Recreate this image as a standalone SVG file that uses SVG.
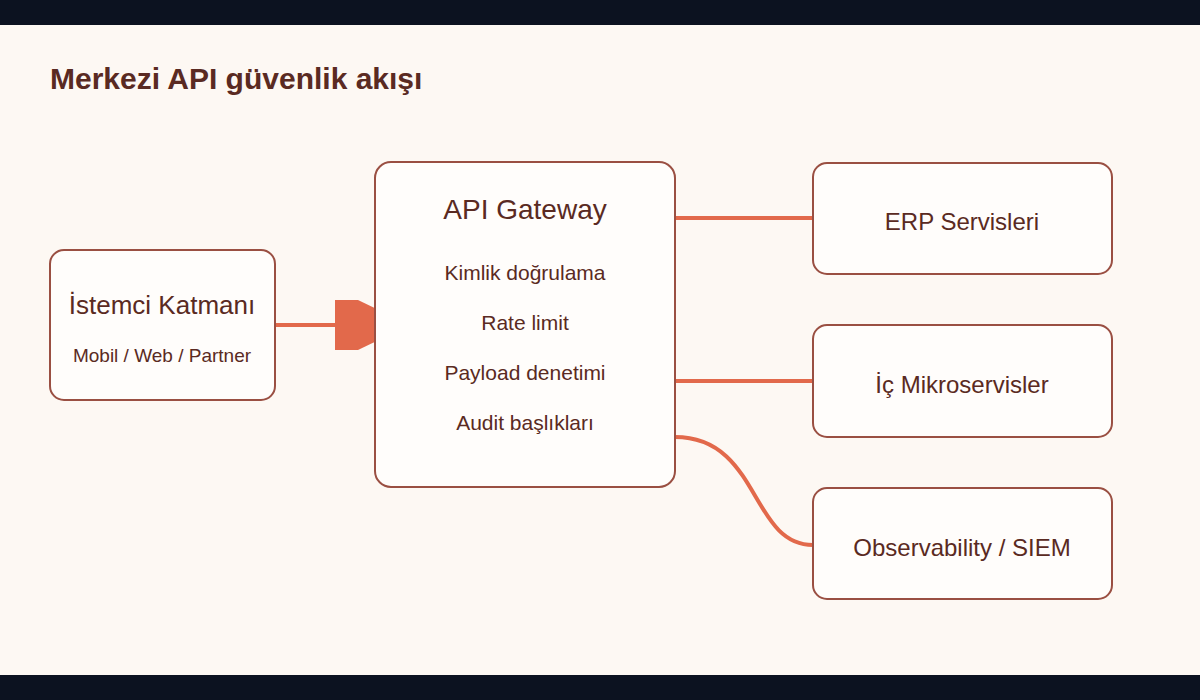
<svg xmlns="http://www.w3.org/2000/svg" width="1200" height="700" viewBox="0 0 1200 700">
<style>
.box{fill:#fffdfb;stroke:#9a4f42;stroke-width:2}
.t{font-family:"Liberation Sans",Arial,sans-serif;fill:#5a2a22;text-anchor:middle}
.c{fill:none;stroke:#e2694b;stroke-width:4}
</style>
<rect width="1200" height="700" fill="#fdf8f3"/>
<rect width="1200" height="25" fill="#0c1220"/>
<rect y="675" width="1200" height="25" fill="#0c1220"/>
<text x="50" y="89" font-family="Liberation Sans,Arial,sans-serif" font-size="30" font-weight="bold" fill="#5a2a22">Merkezi API güvenlik akışı</text>
<g id="connectors">
<path class="c" d="M275 325 H340"/>
<polygon points="335,300 358,300 385,313 385,337 358,350 335,350" fill="#e2694b"/>
<path class="c" d="M675 218 H813"/>
<path class="c" d="M675 381 H813"/>
<path class="c" d="M675 437 C760 437 750 545 813 545"/>
</g>
<g id="client"><rect class="box" x="50" y="250" width="225" height="150" rx="14"/>
<text class="t" x="162" y="314" font-size="26">İstemci Katmanı</text>
<text class="t" x="162" y="362" font-size="19">Mobil / Web / Partner</text></g>
<g id="gateway"><rect class="box" x="375" y="162" width="300" height="325" rx="16"/>
<text class="t" x="525" y="219" font-size="28">API Gateway</text>
<text class="t" x="525" y="280" font-size="21">Kimlik doğrulama</text>
<text class="t" x="525" y="330" font-size="21">Rate limit</text>
<text class="t" x="525" y="380" font-size="21">Payload denetimi</text>
<text class="t" x="525" y="430" font-size="21">Audit başlıkları</text></g>
<g id="erp"><rect class="box" x="813" y="163" width="299" height="111" rx="14"/>
<text class="t" x="962" y="230" font-size="24">ERP Servisleri</text></g>
<g id="micro"><rect class="box" x="813" y="325" width="299" height="112" rx="14"/>
<text class="t" x="962" y="393" font-size="24">İç Mikroservisler</text></g>
<g id="siem"><rect class="box" x="813" y="488" width="299" height="111" rx="14"/>
<text class="t" x="962" y="556" font-size="24">Observability / SIEM</text></g>
</svg>
